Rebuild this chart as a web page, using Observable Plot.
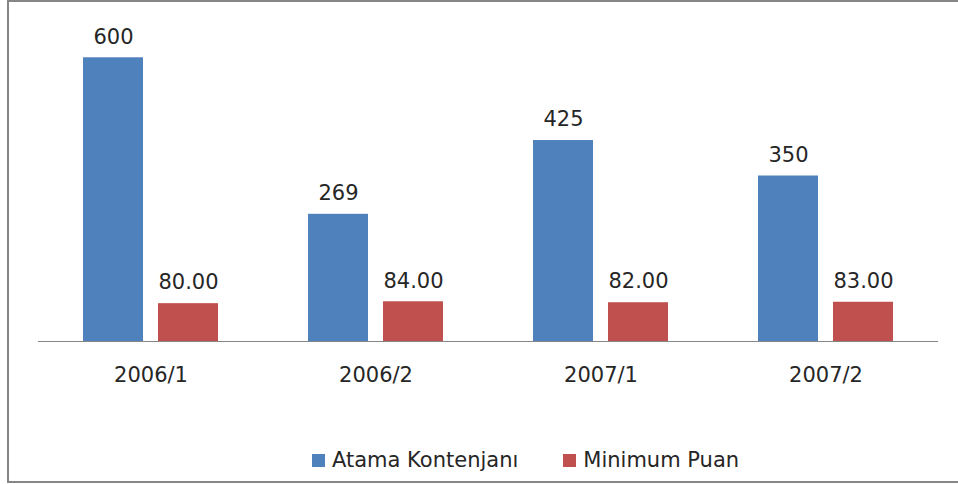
<!DOCTYPE html>
<html><head><meta charset="utf-8">
<script src="https://cdn.jsdelivr.net/npm/d3@7"></script>
<script src="https://cdn.jsdelivr.net/npm/@observablehq/plot@0.6"></script>
<style>
html,body{margin:0;padding:0;background:#fff;width:958px;height:484px;overflow:hidden;font-family:"DejaVu Sans",sans-serif;}
#wrap{position:relative;width:958px;height:484px;}
#chart{position:absolute;left:0;top:0;}
#frame{position:absolute;left:7px;top:0;width:960px;height:479px;border-top:2px solid #868686;border-left:2px solid #868686;border-bottom:2px solid #868686;pointer-events:none;}
#legend{position:absolute;left:312px;top:448px;height:24px;display:flex;align-items:center;font-size:21px;color:#262626;white-space:nowrap;}
#legend .sw{width:13px;height:13px;display:inline-block;margin-right:7px;}
#legend .item{display:flex;align-items:center;margin-right:45px;}
</style></head>
<body><div id="wrap"><div id="chart"></div><div id="legend"></div><div id="frame"></div></div>
<script>
const periods = ["2006/1", "2006/2", "2007/1", "2007/2"];
const series = ["Atama Kontenjanı", "Minimum Puan"];
const atama = [600, 269, 425, 350];
const puan = [80, 84, 82, 83];
const colors = ["#4F81BD", "#C0504D"];

const data = periods.flatMap((p, i) => [
  {period: p, series: series[0], value: atama[i], label: String(atama[i])},
  {period: p, series: series[1], value: puan[i], label: puan[i].toFixed(2)}
]);

const chart = Plot.plot({
  width: 958,
  height: 440,
  marginLeft: 38,
  marginRight: 20,
  marginTop: 10,
  marginBottom: 99,
  style: {fontFamily: "DejaVu Sans", fontSize: "21px", color: "#262626", background: "transparent"},
  fx: {domain: periods, padding: 0, axis: "bottom", tickSize: 0, tickPadding: 26, label: null},
  x: {domain: series, axis: null, paddingInner: 0.2, paddingOuter: 0.6},
  y: {domain: [0, 700], axis: null},
  color: {domain: series, range: colors},
  marks: [
    Plot.barY(data, {fx: "period", x: "series", y: "value", fill: "series"}),
    Plot.ruleY([0], {stroke: "#868686", strokeWidth: 1}),
    Plot.text(data, {fx: "period", x: "series", y: "value", text: "label", dy: -21, lineAnchor: "middle", fill: "#262626", fontSize: 21})
  ]
});
document.getElementById("chart").appendChild(chart);

const legend = document.getElementById("legend");
series.forEach((s, i) => {
  const item = document.createElement("span");
  item.className = "item";
  const sw = document.createElement("span");
  sw.className = "sw";
  sw.style.background = colors[i];
  item.appendChild(sw);
  item.appendChild(document.createTextNode(s));
  legend.appendChild(item);
});
</script>
</body></html>
